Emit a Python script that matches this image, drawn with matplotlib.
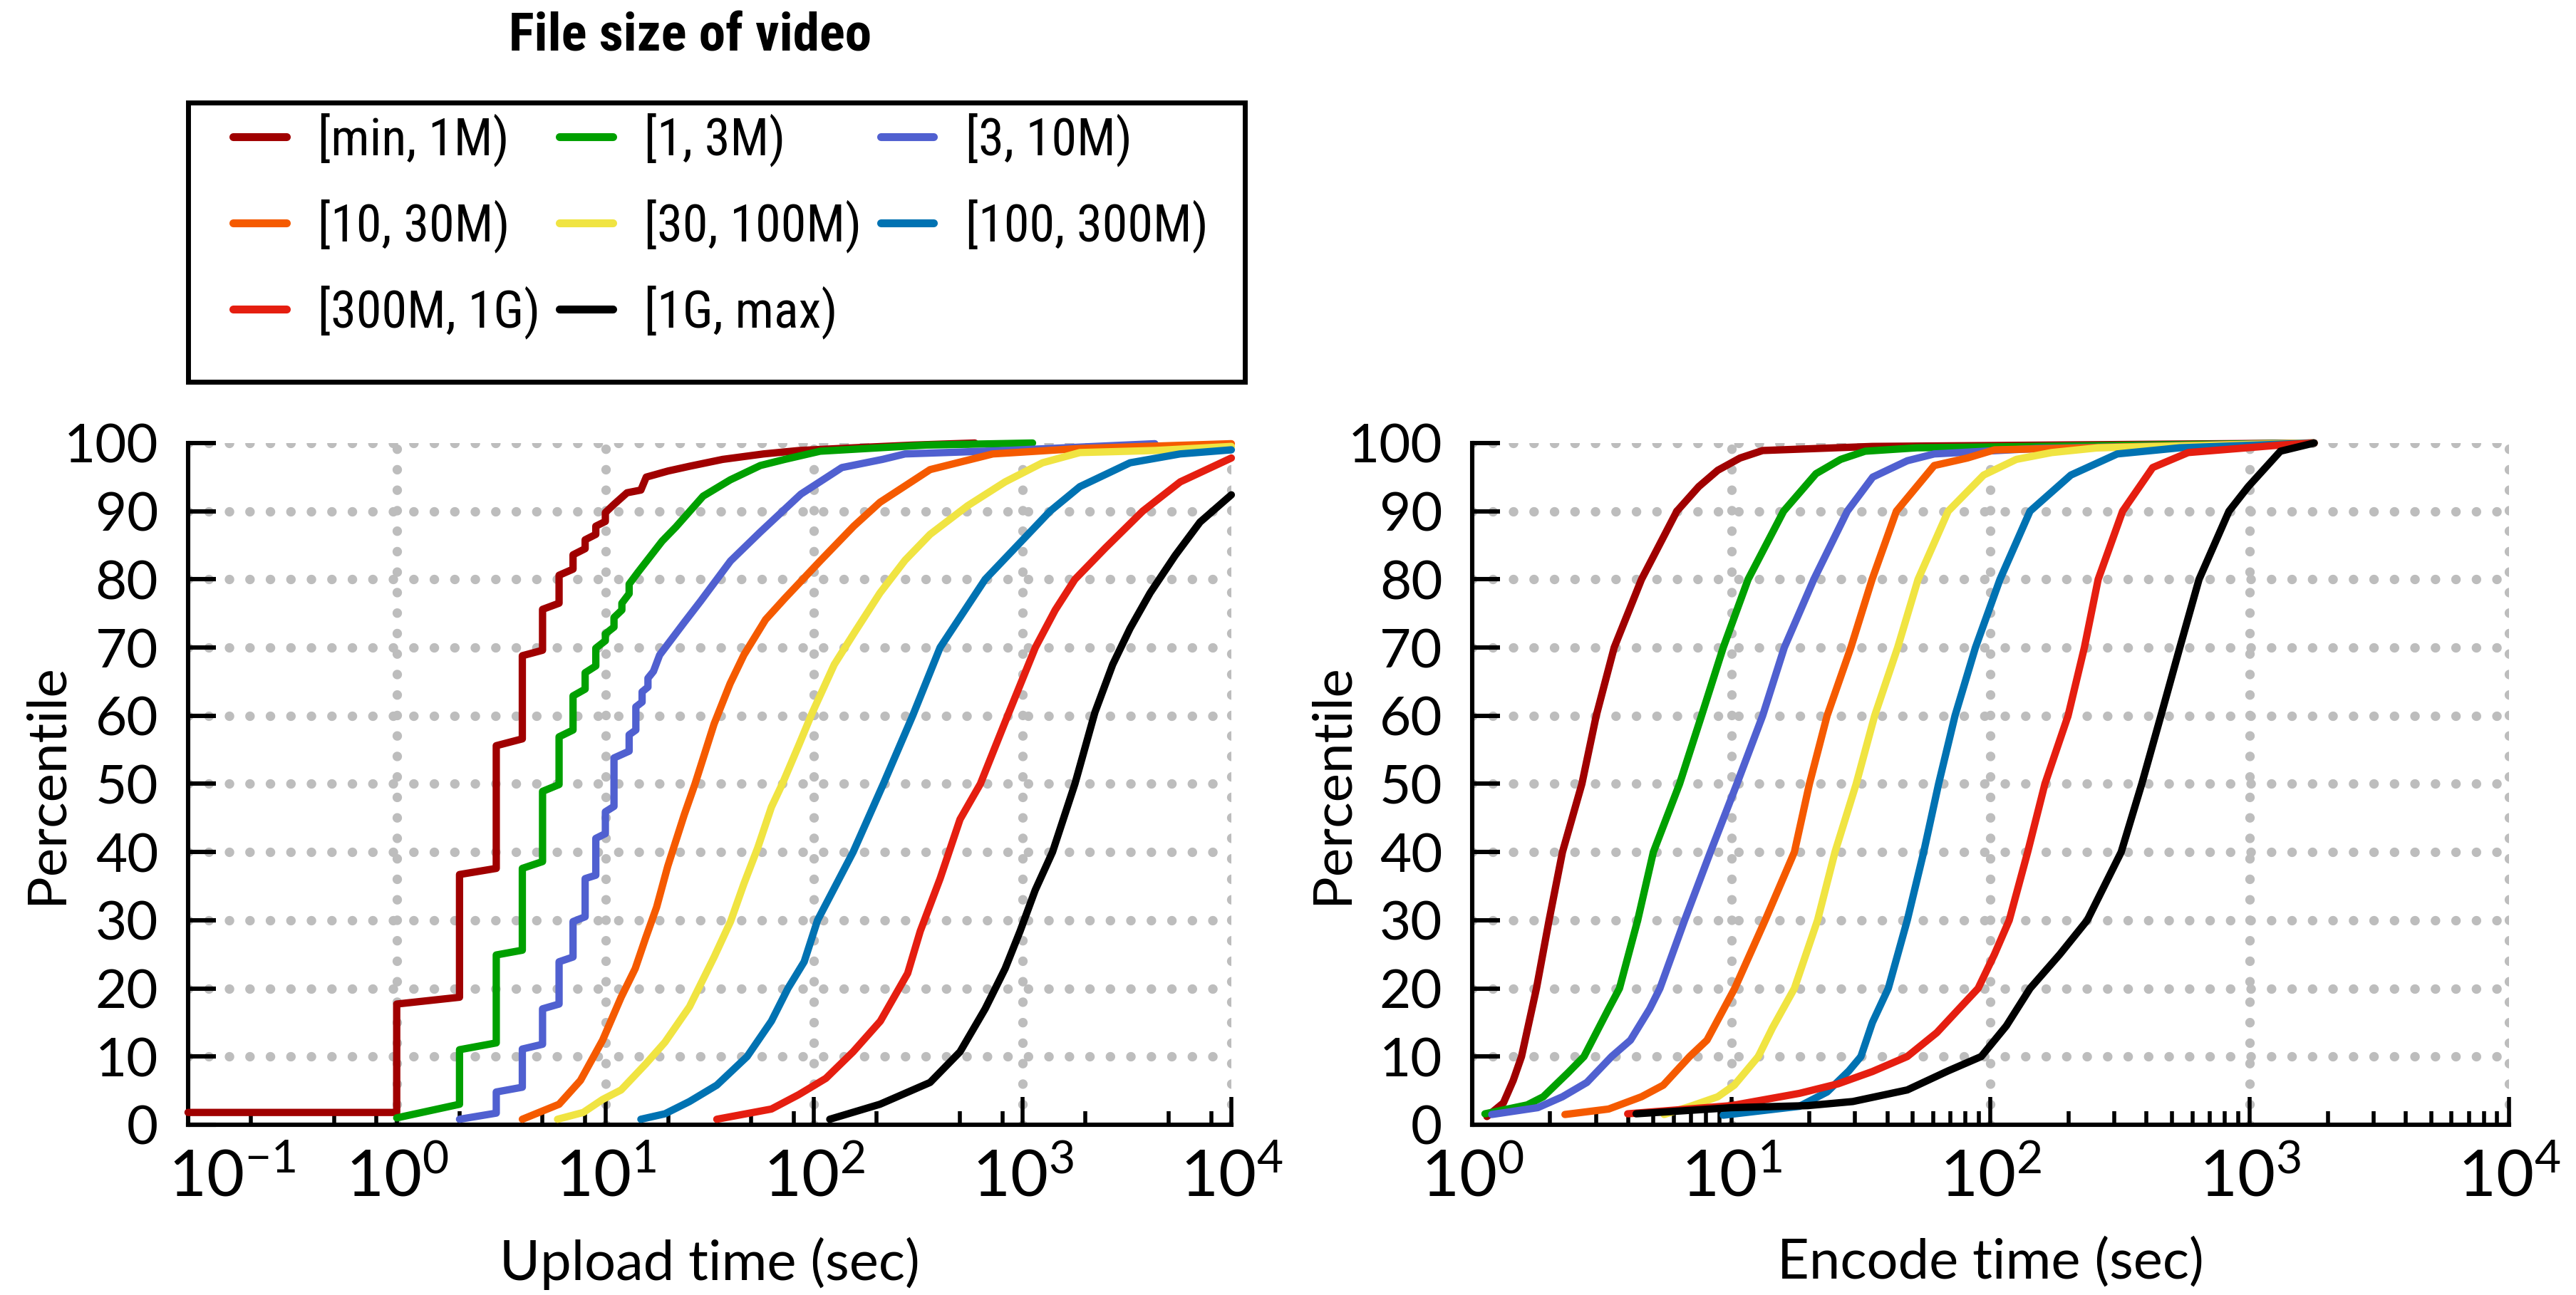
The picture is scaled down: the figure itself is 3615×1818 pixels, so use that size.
import numpy as np
import matplotlib.pyplot as plt
from matplotlib.patches import Rectangle
from matplotlib.ticker import FixedLocator, LogLocator, NullFormatter
from matplotlib.transforms import ScaledTranslation

plt.rcParams['font.family'] = ['Lato', 'DejaVu Sans']
plt.rcParams['mathtext.fontset'] = 'custom'
plt.rcParams['mathtext.rm'] = 'Lato'
plt.rcParams['mathtext.it'] = 'Lato'
plt.rcParams['lines.scale_dashes'] = False

# legend labels and colours
labels = ['[min, 1M)', '[1, 3M)', '[3, 10M)', '[10, 30M)', '[30, 100M)',
          '[100, 300M)', '[300M, 1G)', '[1G, max)']
colors = ['#a00000', '#00a000', '#5060d0', '#f55a00', '#f0e442',
          '#0072b2', '#e51e10', '#000000']
y_ticks = list(range(0, 101, 10))

# upload time CDFs (sec, percentile), one list per size bucket
up_x = [
    [0.1, 1, 1, 2, 2, 3, 3, 4, 4, 5, 5, 6, 6, 7, 7, 8, 8, 9, 9, 10, 10,
     11, 12.7, 14.8, 15.7, 20, 25.4, 36.5, 57.3, 84.8, 155, 300, 590],
    [1, 2, 2, 3, 3, 4, 4, 5, 5, 6, 6, 7, 7, 8, 8, 9, 9, 10, 10, 11, 11, 12, 12, 13, 13,
     14.3, 18.7, 21.8, 29.4, 39.7, 55.3, 72.4, 107, 345, 1115],
    [2, 3, 3, 4, 4, 5, 5, 6, 6, 7, 7, 8, 8, 9, 9, 10, 10, 11, 11, 13, 13, 14, 14, 15, 15, 16, 16,
     17, 18.2, 23.9, 28.6, 39.8, 55.1, 86.5, 136, 213, 273, 824, 4300],
    [4, 6, 7.6, 9.7, 11.9, 13.9, 15.6, 17.6, 19.9, 23.9, 26.9, 33.2, 39.6, 46.1, 58.6,
     72.4, 107, 155, 207, 360, 719, 1890, 10000],
    [5.9, 7.84, 9.7, 11.9, 15.6, 19.3, 25.3, 33.2, 39.8, 46.2, 53.7, 62.5, 70.5, 84.6, 98.3,
     125, 157, 207, 273, 360, 545, 824, 1245, 1880, 4300, 10000],
    [14.8, 19.3, 25.3, 34.2, 47.8, 62.5, 75, 89.7, 104, 154, 215, 297, 402, 661, 1353,
     1880, 3270, 5680, 10000],
    [34.2, 62.5, 84.4, 114, 154, 208, 281, 323, 402, 501, 627, 847, 1150, 1432, 1780,
     2490, 3760, 5690, 10000],
    [119, 207, 360, 501, 661, 824, 972, 1148, 1390, 1780, 2220, 2700, 3270, 4080, 5380,
     7080, 10000],
]
up_y = [
    [1.8, 1.8, 17.7, 18.7, 36.7, 37.6, 55.6, 56.6, 68.8, 69.6, 75.6, 76.5, 80.6, 81.5,
     83.6, 84.5, 85.8, 86.6, 87.8, 88.5, 89.8, 91.0, 92.7, 93.1, 95.0, 95.9, 96.6, 97.6,
     98.4, 98.9, 99.3, 99.7, 100],
    [1.0, 3.0, 11.0, 12.0, 24.9, 25.6, 37.6, 38.6, 48.9, 49.9, 56.9, 57.9, 62.9, 63.9,
     66.3, 67.3, 69.9, 71.0, 72.0, 73.0, 74.4, 75.5, 76.5, 77.9, 79.3, 81.0, 85.6, 87.7,
     92.2, 94.6, 96.7, 97.6, 98.8, 99.7, 100],
    [0.8, 1.7, 4.8, 5.5, 11.1, 11.8, 17.0, 17.7, 23.9, 24.6, 29.8, 30.5, 36.1, 36.6, 42.0,
     42.7, 45.9, 46.7, 53.8, 54.8, 57.2, 57.9, 61.3, 62.0, 63.5, 64.2, 65.5, 66.5, 68.9,
     73.7, 76.8, 82.7, 86.9, 92.5, 96.4, 97.6, 98.4, 98.9, 99.9],
    [0.8, 3.0, 6.5, 12.4, 18.7, 22.9, 27.4, 31.9, 37.9, 45.5, 50, 58.8, 64.7, 68.9, 74.1,
     77.2, 82.7, 87.8, 91.3, 96.1, 98.4, 99.2, 99.9],
    [0.8, 1.8, 3.7, 5.1, 8.9, 12.1, 17.3, 24.6, 29.8, 35.4, 40.6, 46.6, 50, 55.7, 60.5,
     67.5, 72.3, 78.0, 82.8, 86.6, 90.8, 94.3, 97.1, 98.6, 98.9, 99.5],
    [0.8, 1.6, 3.4, 5.8, 10, 15.2, 20, 23.9, 30, 40, 50, 60, 70, 80, 90, 93.6, 97.1,
     98.4, 99.0],
    [0.8, 2.3, 4.4, 6.8, 10.7, 15.2, 22.2, 28.4, 36.1, 44.8, 50, 60, 70, 75.5, 80, 84.6,
     90, 94.3, 97.8],
    [0.8, 3.0, 6.2, 10.7, 17.0, 22.9, 28.4, 34.4, 40, 50, 60.5, 67.5, 72.8, 78.0, 83.5,
     88.4, 92.4],
]

# encode time CDFs (sec, percentile)
enc_x = [
    [1.14, 1.32, 1.44, 1.55, 1.77, 1.98, 2.23, 2.65, 3.01, 3.53, 4.5, 6.16, 7.48, 8.86,
     10.8, 13.2, 35, 1770],
    [1.12, 1.63, 1.88, 2.34, 2.7, 3.36, 3.7, 4.35, 5.0, 6.31, 7.67, 9.3, 11.6, 15.9, 21.2,
     26.4, 32.8, 52, 1770],
    [1.19, 1.79, 2.23, 2.77, 3.45, 4.08, 4.84, 5.3, 6.6, 8.3, 10.5, 13.2, 16.0, 20.8, 28,
     35.1, 47.7, 60.6, 150, 1770],
    [2.28, 3.36, 4.5, 5.46, 6.9, 8.05, 10.3, 13.5, 17.5, 20, 23.4, 28.9, 34.9, 43.3, 60.6,
     81.3, 103.5, 300, 1770],
    [5.5, 6.95, 8.86, 10.26, 12.7, 14.4, 17.5, 21.5, 25.1, 30.3, 35.7, 43.8, 52.5, 68.6,
     94, 125.7, 172, 260, 1770],
    [9.3, 18.3, 23.4, 28.4, 31.6, 35, 40.3, 47.7, 55.2, 63, 72.9, 87.4, 108.7, 141.9, 204,
     308, 537, 1770],
    [3.98, 10, 18.3, 25.8, 35, 47.7, 62, 75.5, 89.5, 103.5, 118, 139, 162, 199, 230, 260,
     323, 422, 578, 1312, 1770],
    [4.29, 10, 19.7, 29.4, 47.7, 68.6, 92, 115, 142, 185, 236, 319, 383, 454, 537, 637,
     831, 986, 1312, 1770],
]
enc_y = [
    [1.2, 3.2, 6.5, 10, 20, 30, 40, 50, 60, 70, 80, 90, 93.6, 96.0, 97.8, 98.9, 99.5, 100],
    [1.6, 2.9, 4.1, 7.6, 10, 17, 20, 30, 40, 50, 60, 70, 80, 90, 95.5, 97.6, 98.8, 99.3, 100],
    [1.5, 2.5, 4.1, 6.2, 10, 12.4, 17.0, 20, 30, 40, 50, 60, 70, 80, 90, 95.0, 97.4, 98.4,
     99.2, 100],
    [1.5, 2.3, 4.1, 5.8, 10, 12.4, 20, 30, 40, 50, 60, 70, 80, 90, 96.7, 97.8, 99.0, 99.4, 100],
    [1.5, 2.7, 4.1, 5.8, 10, 14.2, 20, 30, 40, 50, 60, 70, 80, 90, 95.3, 97.6, 98.6, 99.3, 100],
    [1.4, 2.7, 4.8, 7.9, 10, 15, 20, 30, 40, 50, 60, 70, 80, 90, 95.3, 98.4, 99.3, 100],
    [1.6, 2.8, 4.6, 6.0, 7.8, 10, 13.5, 17, 20, 25, 30, 40, 50, 60, 70, 80, 90, 96.4, 98.6,
     99.7, 100],
    [1.6, 2.5, 2.8, 3.4, 5.1, 7.9, 10, 14.5, 20, 25, 30, 40, 50, 60, 70, 80, 90, 93.6, 98.8,
     100],
]

fig = plt.figure(figsize=(18.075, 9.09), dpi=200)
ax1 = fig.add_axes([0.0730, 0.1315, 0.4050, 0.5264])
ax2 = fig.add_axes([0.5715, 0.1315, 0.4025, 0.5264])

grid_style = dict(color='#bdbdbd', linewidth=4.8, linestyle=(0, (0.05, 10.3)),
                  dash_capstyle='round', zorder=0.5)


def style_axis(ax, decades, subs, xlabel):
    ax.set_xscale('log')
    ax.set_xlim(decades[0], decades[-1])
    ax.set_ylim(0, 100)
    ax.yaxis.set_major_locator(FixedLocator(y_ticks))
    ax.xaxis.set_major_locator(FixedLocator(decades))
    ax.xaxis.set_minor_locator(LogLocator(base=10, subs=subs, numticks=100))
    ax.xaxis.set_minor_formatter(NullFormatter())
    ax.spines['top'].set_visible(False)
    ax.spines['right'].set_visible(False)
    ax.spines['left'].set_linewidth(2.2)
    ax.spines['bottom'].set_linewidth(2.2)
    ax.tick_params(axis='y', which='major', direction='in', length=14, width=2.2,
                   labelsize=27.5, pad=15)
    ax.tick_params(axis='x', which='major', direction='in', length=14, width=2.0,
                   labelsize=33, pad=12)
    ax.tick_params(axis='x', which='minor', direction='in', length=7, width=2.0)
    # dotted grid drawn by hand so the round dots come out the right size
    for v in y_ticks[1:]:
        ax.axhline(v, **grid_style)
    for d in decades[1:]:
        ax.axvline(d, **grid_style)
    ax.set_xlabel(xlabel, fontsize=28)
    ax.set_ylabel('Percentile', fontsize=27.5)
    ax.xaxis.set_label_coords(0.5, -0.165)
    ax.yaxis.set_label_coords(-0.112, 0.5)


style_axis(ax1, [0.1, 1, 10, 100, 1000, 10000], [2, 5, 8], 'Upload time (sec)')
style_axis(ax2, [1, 10, 100, 1000, 10000], np.arange(2, 10), 'Encode time (sec)')

# the first upload label sits right of its tick, clear of the "0"
first = ax1.xaxis.get_major_ticks()[0].label1
first.set_transform(first.get_transform() + ScaledTranslation(0.31, 0, fig.dpi_scale_trans))

handles = []
for i in range(len(labels)):
    h, = ax1.plot(up_x[i], up_y[i], color=colors[i], lw=3.7, clip_on=False,
                  solid_capstyle='round', solid_joinstyle='round', zorder=3)
    ax2.plot(enc_x[i], enc_y[i], color=colors[i], lw=3.7, clip_on=False,
             solid_capstyle='round', solid_joinstyle='round', zorder=3)
    handles.append(h)

# reorder so the legend reads row by row
order = [0, 3, 6, 1, 4, 7, 2, 5]
leg = fig.legend([handles[i] for i in order], [labels[i] for i in order],
                 loc='upper left', bbox_to_anchor=(0.0905, 0.913), ncol=3,
                 frameon=False, borderpad=0, borderaxespad=0,
                 handlelength=1.03, handletextpad=0.61, columnspacing=0.38,
                 labelspacing=0.63,
                 prop={'family': ['Roboto Condensed', 'Lato'], 'size': 26})
for line in leg.get_lines():
    line.set_linewidth(4)
    line.set_solid_capstyle('round')

fig.patches.append(Rectangle((0.0730, 0.7052), 0.4102, 0.2156, transform=fig.transFigure,
                             fill=False, edgecolor='black', linewidth=2.5))

fig.text(0.2678, 0.9714, 'File size of video', ha='center', va='center',
         fontsize=27, fontweight='bold',
         family=['Roboto Condensed', 'Lato', 'DejaVu Sans'])

fig.savefig('out.png', dpi=200)
